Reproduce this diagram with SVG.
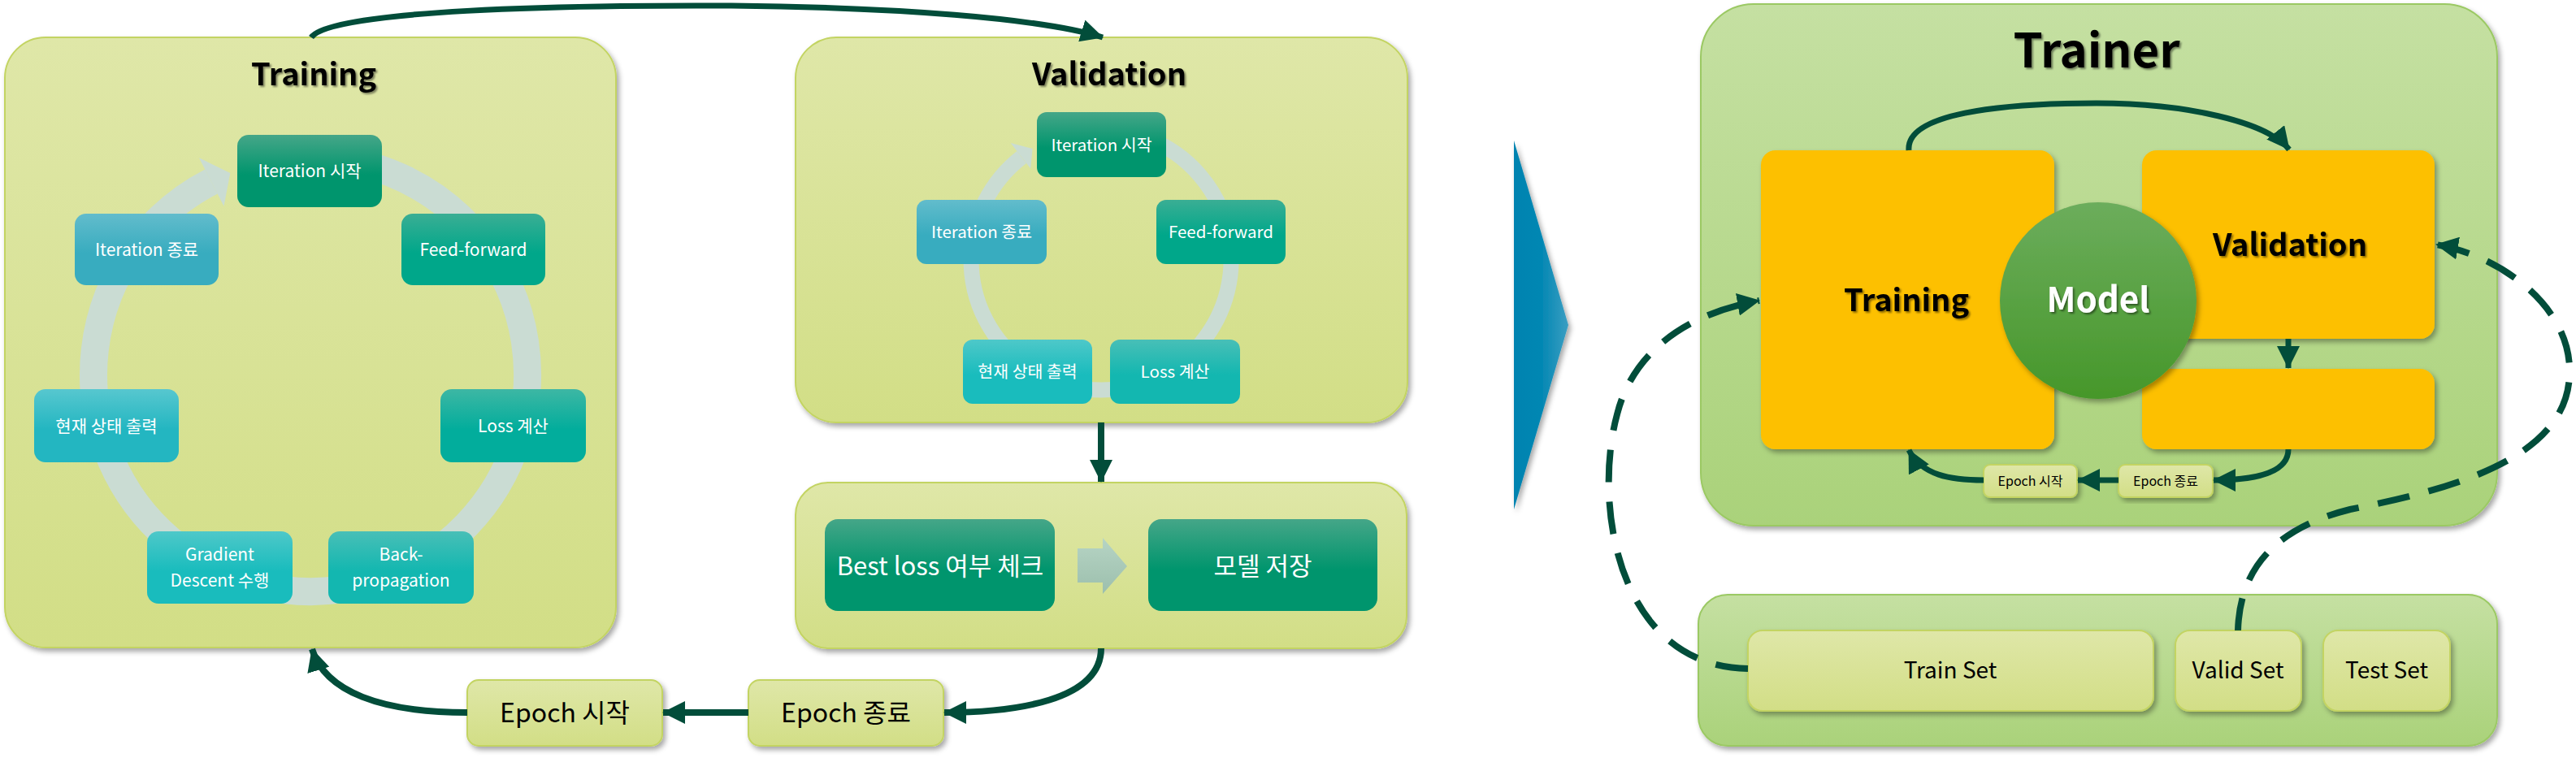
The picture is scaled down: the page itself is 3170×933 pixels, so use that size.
<svg xmlns="http://www.w3.org/2000/svg" width="3170" height="933" viewBox="0 0 3170 933">
<defs>
<linearGradient id="gPanel" x1="0" y1="0" x2="0" y2="1"><stop offset="0" stop-color="#dfe7a8"/><stop offset="1" stop-color="#d2de86"/></linearGradient>
<linearGradient id="gTrainer" x1="0" y1="0" x2="0" y2="1"><stop offset="0" stop-color="#c5e0a2"/><stop offset="1" stop-color="#aad27a"/></linearGradient>
<linearGradient id="gA" x1="0" y1="0" x2="0" y2="1"><stop offset="0" stop-color="#45a688"/><stop offset="0.55" stop-color="#00956d"/><stop offset="1" stop-color="#00956d"/></linearGradient>
<linearGradient id="gB" x1="0" y1="0" x2="0" y2="1"><stop offset="0" stop-color="#3aae94"/><stop offset="0.55" stop-color="#00a78a"/><stop offset="1" stop-color="#00a78a"/></linearGradient>
<linearGradient id="gC" x1="0" y1="0" x2="0" y2="1"><stop offset="0" stop-color="#3db7a4"/><stop offset="0.55" stop-color="#02ad9c"/><stop offset="1" stop-color="#02ad9c"/></linearGradient>
<linearGradient id="gD" x1="0" y1="0" x2="0" y2="1"><stop offset="0" stop-color="#48bfb7"/><stop offset="0.55" stop-color="#13b7b0"/><stop offset="1" stop-color="#13b7b0"/></linearGradient>
<linearGradient id="gE" x1="0" y1="0" x2="0" y2="1"><stop offset="0" stop-color="#4ec8c9"/><stop offset="0.55" stop-color="#19bcbd"/><stop offset="1" stop-color="#19bcbd"/></linearGradient>
<linearGradient id="gF" x1="0" y1="0" x2="0" y2="1"><stop offset="0" stop-color="#57c7cf"/><stop offset="0.55" stop-color="#23b6c1"/><stop offset="1" stop-color="#23b6c1"/></linearGradient>
<linearGradient id="gG" x1="0" y1="0" x2="0" y2="1"><stop offset="0" stop-color="#62bccc"/><stop offset="0.55" stop-color="#38acbf"/><stop offset="1" stop-color="#38acbf"/></linearGradient>
<linearGradient id="gBlock" x1="0" y1="0" x2="0" y2="1"><stop offset="0" stop-color="#b6d4c4"/><stop offset="1" stop-color="#9cbfad"/></linearGradient>
<linearGradient id="gBlue" x1="0" y1="0" x2="1" y2="0"><stop offset="0" stop-color="#0283b0"/><stop offset="0.5" stop-color="#0287b3"/><stop offset="1" stop-color="#3c9ec2"/></linearGradient>
<linearGradient id="gModel" x1="0" y1="0" x2="0" y2="1"><stop offset="0" stop-color="#6cad5c"/><stop offset="1" stop-color="#46972a"/></linearGradient>
<filter id="sh" x="-10%" y="-10%" width="125%" height="130%"><feDropShadow dx="3" dy="4" stdDeviation="3" flood-color="#000" flood-opacity="0.35"/></filter>
<filter id="tsh" x="-10%" y="-20%" width="130%" height="150%"><feDropShadow dx="2" dy="2" stdDeviation="1.3" flood-color="#000" flood-opacity="0.45"/></filter>
<marker id="ah" viewBox="0 0 28 28" refX="27" refY="14" markerWidth="28" markerHeight="28" markerUnits="userSpaceOnUse" orient="auto"><path d="M0,0 L28,14 L0,28 z" fill="#024d3a"/></marker>
<style>
text{font-family:"Noto Sans CJK KR","Noto Sans",sans-serif;text-anchor:middle}
.panel{fill:url(#gPanel);stroke:#c3d462;stroke-width:2;filter:url(#sh)}
.gpanel{fill:url(#gTrainer);stroke:#9bc964;stroke-width:2;filter:url(#sh)}
.ybox{fill:#fdc000;filter:url(#sh)}
.title{font-weight:bold;font-size:38px;fill:#000;filter:url(#tsh)}
.nt{fill:#fff;font-size:21px}
.nv{fill:#fff;font-size:20.5px}
.bt{fill:#fff;font-size:31px}
.et{fill:#000;font-size:32px}
.st{fill:#000;font-size:28px}
.se{fill:#000;font-size:16px}
.ring{fill:none;stroke:#cadcd3}
.conn{fill:none;stroke:#024d3a;stroke-width:8;marker-end:url(#ah)}
.dash{fill:none;stroke:#024d3a;stroke-width:8;stroke-dasharray:40 24;marker-end:url(#ah)}
</style>
</defs>

<g id="training-panel">
<rect class="panel" x="6" y="46" width="752" height="751" rx="50"/>
<text class="title" x="386" y="105">Training</text>
<path class="ring" stroke-width="34" d="M358.7,195 A267,267 0 1 1 260,223.5"/>
<polygon fill="#cadcd3" points="244.9,194.2 283.3,212.9 275.5,253.8"/>
</g>
<g id="t-iter-start"><rect x="292" y="166" width="178" height="89" rx="14" fill="url(#gA)"/><text class="nt" x="381" y="218">Iteration 시작</text></g>
<g id="t-feed-forward"><rect x="494" y="263" width="177" height="88" rx="14" fill="url(#gB)"/><text class="nt" x="582.5" y="315">Feed-forward</text></g>
<g id="t-loss"><rect x="542" y="479" width="179" height="90" rx="14" fill="url(#gC)"/><text class="nt" x="631.5" y="532">Loss 계산</text></g>
<g id="t-backprop"><rect x="404" y="654" width="179" height="89" rx="14" fill="url(#gD)"/><text class="nt" x="493.5" y="690">Back-</text><text class="nt" x="493.5" y="722">propagation</text></g>
<g id="t-gradient"><rect x="181" y="654" width="179" height="89" rx="14" fill="url(#gE)"/><text class="nt" x="270.5" y="690">Gradient</text><text class="nt" x="270.5" y="722">Descent 수행</text></g>
<g id="t-status"><rect x="42" y="479" width="178" height="90" rx="14" fill="url(#gF)"/><text class="nt" x="131" y="532">현재 상태 출력</text></g>
<g id="t-iter-end"><rect x="92" y="263" width="177" height="88" rx="14" fill="url(#gG)"/><text class="nt" x="180.5" y="315">Iteration 종료</text></g>

<g id="validation-panel">
<rect class="panel" x="979" y="46" width="753" height="474" rx="50"/>
<text class="title" x="1365" y="105">Validation</text>
<path class="ring" stroke-width="19" d="M1341,160.6 A160,160 0 1 1 1257.2,193.4"/>
<polygon fill="#cadcd3" points="1243.7,176 1270.6,182.9 1268.2,207.6"/>
</g>
<g id="v-iter-start"><rect x="1276" y="138" width="159" height="80" rx="12" fill="url(#gA)"/><text class="nv" x="1355.5" y="185.5">Iteration 시작</text></g>
<g id="v-feed-forward"><rect x="1423" y="246" width="159" height="79" rx="12" fill="url(#gB)"/><text class="nv" x="1502.5" y="293">Feed-forward</text></g>
<g id="v-loss"><rect x="1366" y="418" width="160" height="79" rx="12" fill="url(#gD)"/><text class="nv" x="1446" y="465">Loss 계산</text></g>
<g id="v-status"><rect x="1185" y="418" width="159" height="79" rx="12" fill="url(#gE)"/><text class="nv" x="1264.5" y="465">현재 상태 출력</text></g>
<g id="v-iter-end"><rect x="1128" y="246" width="160" height="79" rx="12" fill="url(#gG)"/><text class="nv" x="1208" y="293">Iteration 종료</text></g>

<g id="best-panel">
<rect class="panel" x="979" y="594" width="752" height="204" rx="40"/>
<polygon fill="url(#gBlock)" points="1326,675 1357,675 1357,662 1387,697 1357,731 1357,717 1326,717"/>
</g>
<g id="best-check"><rect x="1015" y="639" width="283" height="113" rx="16" fill="url(#gA)"/><text class="bt" x="1157" y="708">Best loss 여부 체크</text></g>
<g id="model-save"><rect x="1413" y="639" width="282" height="113" rx="16" fill="url(#gA)"/><text class="bt" x="1554" y="708">모델 저장</text></g>

<g id="epoch-start"><rect class="panel" x="575" y="837" width="240" height="81" rx="14"/><text class="et" x="695" y="889">Epoch 시작</text></g>
<g id="epoch-end"><rect class="panel" x="921" y="837" width="240" height="81" rx="14"/><text class="et" x="1041" y="889">Epoch 종료</text></g>

<g id="blue-arrow">
<polygon points="1863,173 1930,400 1863,627" fill="url(#gBlue)" filter="url(#sh)"/>
</g>

<g id="trainer-panel">
<rect class="gpanel" x="2093" y="5" width="980" height="642" rx="65"/>
<text class="title" x="2580" y="83" style="font-size:58px">Trainer</text>
</g>
<g id="tr-training"><rect class="ybox" x="2167" y="185" width="361" height="368" rx="18"/><text class="title" x="2346" y="383">Training</text></g>
<g id="tr-validation"><rect class="ybox" x="2636" y="185" width="360" height="232" rx="18"/><text class="title" x="2818" y="315">Validation</text></g>
<g id="tr-lower"><rect class="ybox" x="2636" y="454" width="360" height="99" rx="18"/></g>
<g id="tr-model"><circle cx="2582" cy="370" r="121" fill="url(#gModel)" filter="url(#sh)"/><text class="title" x="2582" y="384" style="fill:#fff;font-size:42px">Model</text></g>
<g id="tr-epoch-start"><rect class="panel" x="2441" y="572" width="115" height="40" rx="8"/><text class="se" x="2498.5" y="598">Epoch 시작</text></g>
<g id="tr-epoch-end"><rect class="panel" x="2607" y="572" width="116" height="40" rx="8"/><text class="se" x="2665" y="598">Epoch 종료</text></g>

<g id="data-panel">
<rect class="gpanel" x="2090" y="732" width="983" height="186" rx="36"/>
</g>
<g id="train-set"><rect class="panel" x="2151" y="776" width="499" height="99" rx="18"/><text class="st" x="2400" y="835">Train Set</text></g>
<g id="valid-set"><rect class="panel" x="2677" y="776" width="155" height="99" rx="18"/><text class="st" x="2754" y="835">Valid Set</text></g>
<g id="test-set"><rect class="panel" x="2859" y="776" width="156" height="99" rx="18"/><text class="st" x="2937" y="835">Test Set</text></g>

<g id="connectors">
<path class="conn" style="stroke-width:7" d="M383,46 C405,12 700,6 900,7 C1100,9 1280,22 1357,46"/>
<path class="conn" d="M1355,520 L1355,593"/>
<path class="conn" d="M1355,798 C1355,862 1250,877 1162,877"/>
<path class="conn" d="M921,877 L816,877"/>
<path class="conn" d="M575,877 C470,877 400,852 384,799"/>
<path class="conn" style="stroke-width:7" d="M2349,185 C2345,140 2460,127 2580,127 C2690,127 2790,150 2817,184"/>
<path class="conn" style="stroke-width:7" d="M2816,417 L2816,453"/>
<path class="conn" style="stroke-width:7" d="M2816,553 C2816,580 2780,591 2724,591"/>
<path class="conn" style="stroke-width:7" d="M2607,591 L2557,591"/>
<path class="conn" style="stroke-width:7" d="M2441,591 C2400,591 2365,585 2349,554"/>
<path class="dash" d="M2151,823 C1990,820 1960,620 1990,510 C2010,430 2080,385 2165,370"/>
<path class="dash" d="M2754,776 C2756,700 2800,650 2892,627 C3000,605 3160,570 3162,460 C3165,380 3080,315 2998,301"/>
</g>
</svg>
